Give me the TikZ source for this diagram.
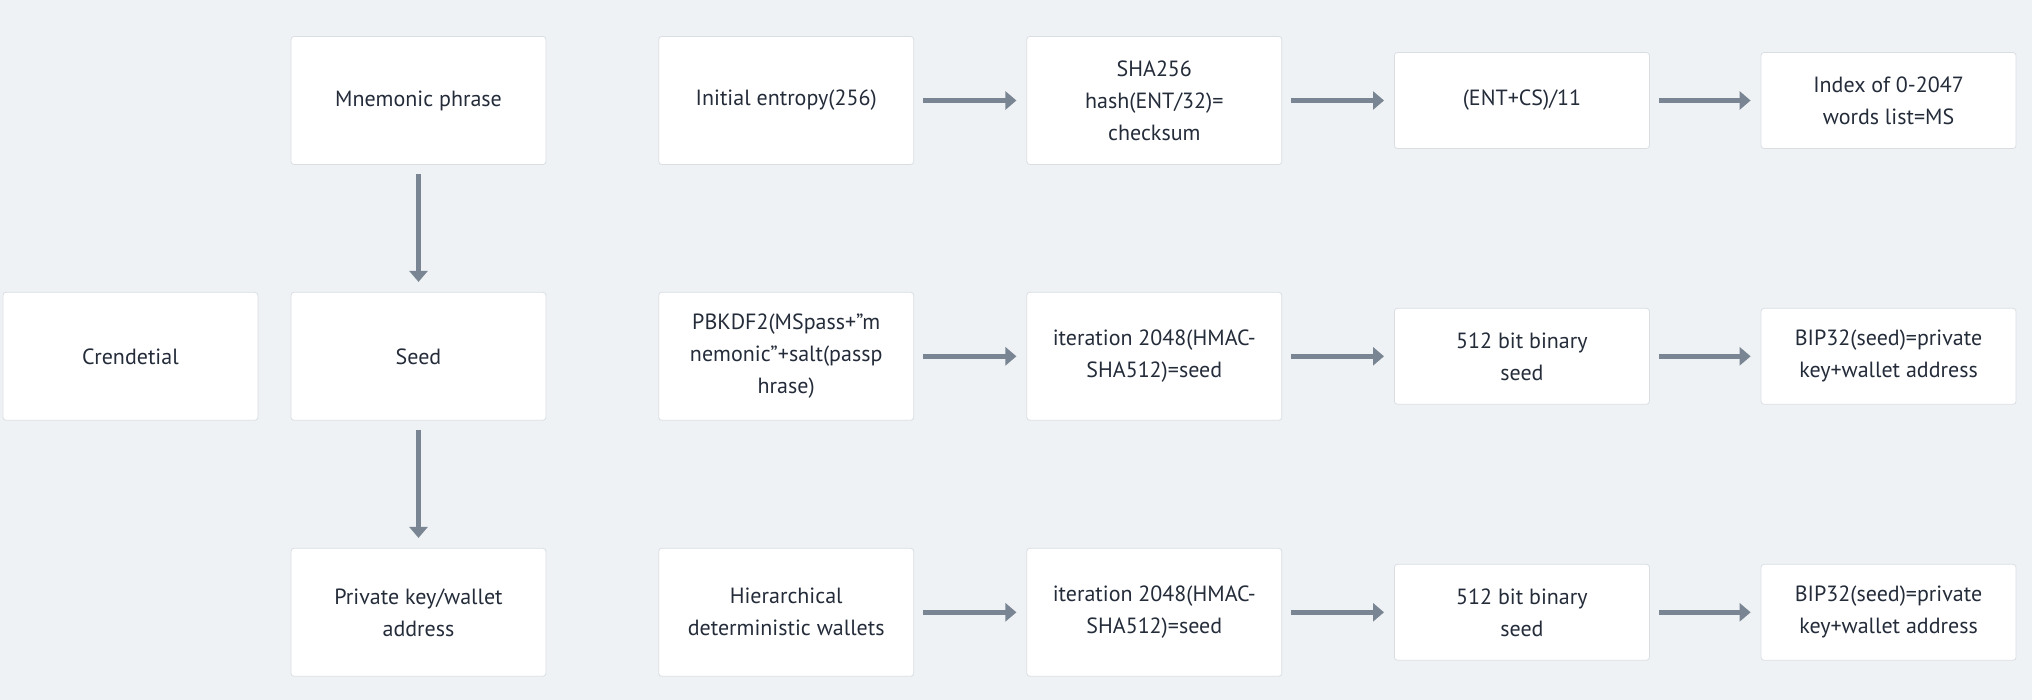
\documentclass[tikz,border=0pt]{standalone}
\usepackage{fontspec}
\setmainfont{PT Sans}
\usetikzlibrary{arrows.meta}
\definecolor{bgcol}{RGB}{239,242,245}
\definecolor{boxline}{RGB}{218,222,227}
\definecolor{arrowcol}{RGB}{121,133,146}
\definecolor{textcol}{RGB}{36,44,58}
\tikzset{
  tallbox/.style={draw=boxline,fill=white,rounded corners=1.5pt,minimum width=127.5pt,minimum height=64pt,align=center,text=textcol,inner sep=0pt},
  shortbox/.style={tallbox,minimum height=48pt},
  flow/.style={-{Triangle[length=5.5pt,width=9pt]},line width=2.5pt,arrowcol,shorten <=4.5pt,shorten >=5pt}
}
\begin{document}
\begin{tikzpicture}[x=0.5pt,y=-0.5pt,every node/.append style={font=\fontsize{11}{16}\selectfont}]
\fill[bgcol] (0,0) rectangle (2032,700);

% left columns
\node (credential) [tallbox] at (130.4,356.3) {Crendetial};
\node (mnemonic) [tallbox] at (418.5,100.5) {Mnemonic phrase};
\node (seed) [tallbox] at (418.5,356.3) {Seed};
\node (privkey) [tallbox] at (418.5,612.3) {Private key/wallet\\address};

\draw[flow] (mnemonic) -- (seed);
\draw[flow] (seed) -- (privkey);

%
% mnemonic row
%
\node (entropy) [tallbox] at (786.2,100.5) {Initial entropy(256)};
\node (sha) [tallbox] at (1154.3,100.5) {SHA256\\hash(ENT/32)=\\checksum};
\node (entcs) [shortbox] at (1521.9,100.5) {(ENT+CS)/11};
\node (index) [shortbox] at (1888.5,100.5) {Index of 0-2047\\words list=MS};

\draw[flow] (entropy) -- (sha);
\draw[flow] (sha) -- (entcs);
\draw[flow] (entcs) -- (index);

%
% seed row
%
\node (pbkdf) [tallbox] at (786.2,356.3) {PBKDF2(MSpass+”m\\nemonic”+salt(passp\\hrase)};
\node (iterA) [tallbox] at (1154.3,356.3) {iteration 2048(HMAC-\\SHA512)=seed};
\node (binA) [shortbox] at (1521.9,356.3) {512 bit binary\\seed};
\node (bipA) [shortbox] at (1888.5,356.3) {BIP32(seed)=private\\key+wallet address};

\draw[flow] (pbkdf) -- (iterA);
\draw[flow] (iterA) -- (binA);
\draw[flow] (binA) -- (bipA);

%
% wallet row
%
\node (hd) [tallbox] at (786.2,612.3) {Hierarchical\\deterministic wallets};
\node (iterB) [tallbox] at (1154.3,612.3) {iteration 2048(HMAC-\\SHA512)=seed};
\node (binB) [shortbox] at (1521.9,612.3) {512 bit binary\\seed};
\node (bipB) [shortbox] at (1888.5,612.3) {BIP32(seed)=private\\key+wallet address};

\draw[flow] (hd) -- (iterB);
\draw[flow] (iterB) -- (binB);
\draw[flow] (binB) -- (bipB);

\end{tikzpicture}
\end{document}
